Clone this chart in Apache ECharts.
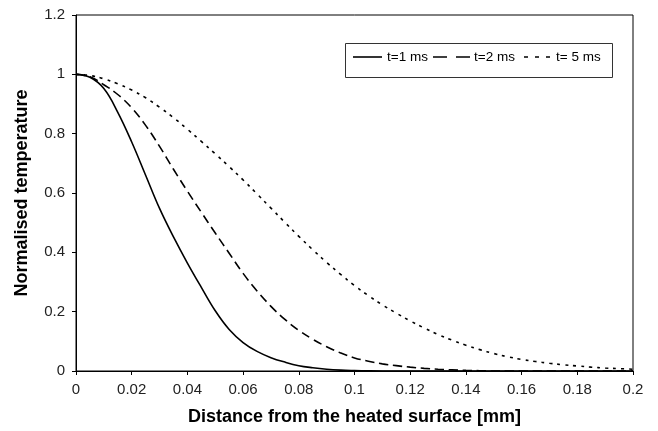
<!DOCTYPE html>
<html>
<head>
<meta charset="utf-8">
<script src="https://cdn.jsdelivr.net/npm/echarts@6/dist/echarts.min.js"></script>
<style>
html,body{margin:0;padding:0;background:#fff;}
#chart{width:658px;height:431px;}
</style>
</head>
<body>
<div id="chart"></div>
<script>
const xValues = [0,0.005,0.01,0.015,0.02,0.025,0.03,0.035,0.04,0.045,0.05,0.055,0.06,0.065,0.07,0.075,0.08,0.085,0.09,0.095,0.1,0.105,0.11,0.115,0.12,0.125,0.13,0.135,0.14,0.145,0.15,0.155,0.16,0.165,0.17,0.175,0.18,0.185,0.19,0.195,0.2];
const t1 = [1,0.99,0.952,0.872,0.772,0.66,0.548,0.452,0.364,0.282,0.203,0.14,0.096,0.066,0.045,0.03,0.018,0.011,0.006,0.003,0.0015,0.0005,0,0,0,0,0,0,0,0,0,0,0,0,0,0,0,0,0,0,0];
const t2 = [1,0.992,0.965,0.932,0.887,0.828,0.757,0.68,0.606,0.535,0.465,0.397,0.329,0.27,0.218,0.174,0.137,0.107,0.082,0.061,0.044,0.033,0.024,0.018,0.013,0.009,0.006,0.004,0.002,0.001,0,0,0,0,0,0,0,0,0,0,0];
const t5 = [1,0.996,0.985,0.968,0.947,0.921,0.889,0.854,0.815,0.774,0.732,0.689,0.644,0.597,0.549,0.501,0.454,0.409,0.366,0.326,0.288,0.254,0.223,0.195,0.169,0.145,0.123,0.104,0.087,0.072,0.059,0.048,0.039,0.032,0.026,0.021,0.017,0.013,0.010,0.008,0.006];
const seriesNames = ['t=1 ms','t=2 ms','t= 5 ms'];
const xTicks = {min:0, max:0.2, interval:0.02};
const yTicks = {min:0, max:1.2, interval:0.2};

const pairs = ys => xValues.map((x,i)=>[x, ys[i]]);
const font = '"Liberation Sans", Arial, sans-serif';
const chart = echarts.init(document.getElementById('chart'), null, {renderer:'canvas'});
const lineCommon = {type:'line', showSymbol:false, symbol:'none', smooth:0.4, animation:false};
const legendY = 57;
chart.setOption({
  animation:false,
  backgroundColor:'#fff',
  grid:{left:76, right:25, top:15, bottom:60, show:true, borderColor:'#000', borderWidth:1},
  graphic:[
    {type:'rect', shape:{x:345.5, y:43.5, width:267, height:34}, style:{fill:'#fff', stroke:'#333', lineWidth:1}, z:10},
    {type:'line', shape:{x1:353, y1:legendY, x2:382, y2:legendY}, style:{stroke:'#000', lineWidth:1.6}, z:11},
    {type:'text', x:387, y:legendY, style:{text:seriesNames[0], font:'13.5px "Liberation Sans", Arial, sans-serif', fill:'#000', verticalAlign:'middle', align:'left'}, z:11},
    {type:'line', shape:{x1:433, y1:legendY, x2:470, y2:legendY}, style:{stroke:'#000', lineWidth:1.6, lineDash:[14,9]}, z:11},
    {type:'text', x:474, y:legendY, style:{text:seriesNames[1], font:'13.5px "Liberation Sans", Arial, sans-serif', fill:'#000', verticalAlign:'middle', align:'left'}, z:11},
    {type:'line', shape:{x1:524, y1:legendY, x2:550, y2:legendY}, style:{stroke:'#000', lineWidth:1.6, lineDash:[4,7]}, z:11},
    {type:'text', x:556, y:legendY, style:{text:seriesNames[2], font:'13.5px "Liberation Sans", Arial, sans-serif', fill:'#000', verticalAlign:'middle', align:'left'}, z:11}
  ],
  xAxis:{
    type:'value', min:xTicks.min, max:xTicks.max, interval:xTicks.interval,
    name:'Distance from the heated surface [mm]', nameLocation:'middle', nameGap:37,
    nameTextStyle:{fontFamily:font, fontSize:18, fontWeight:'bold', color:'#000'},
    axisLine:{show:true, lineStyle:{color:'#000', width:1}},
    axisTick:{show:true, length:4, lineStyle:{color:'#000'}},
    axisLabel:{fontFamily:font, fontSize:15, color:'#222', margin:11, formatter:v=>String(+v.toFixed(2))},
    splitLine:{show:false}
  },
  yAxis:{
    type:'value', min:yTicks.min, max:yTicks.max, interval:yTicks.interval,
    name:'Normalised temperature', nameLocation:'middle', nameGap:45,
    nameTextStyle:{fontFamily:font, fontSize:18, fontWeight:'bold', color:'#000'},
    axisLine:{show:true, lineStyle:{color:'#000', width:1}},
    axisTick:{show:true, length:4, lineStyle:{color:'#000'}},
    axisLabel:{fontFamily:font, fontSize:15, color:'#222', margin:11, formatter:v=>String(+v.toFixed(1))},
    splitLine:{show:false}
  },
  series:[
    Object.assign({}, lineCommon, {name:seriesNames[0], data:pairs(t1), lineStyle:{color:'#000', width:1.6, type:'solid'}, itemStyle:{color:'#000'}}),
    Object.assign({}, lineCommon, {name:seriesNames[1], data:pairs(t2), lineStyle:{color:'#000', width:1.6, type:[9,5]}, itemStyle:{color:'#000'}}),
    Object.assign({}, lineCommon, {name:seriesNames[2], data:pairs(t5), lineStyle:{color:'#000', width:1.6, type:[3,5]}, itemStyle:{color:'#000'}})
  ]
});
</script>
</body>
</html>
